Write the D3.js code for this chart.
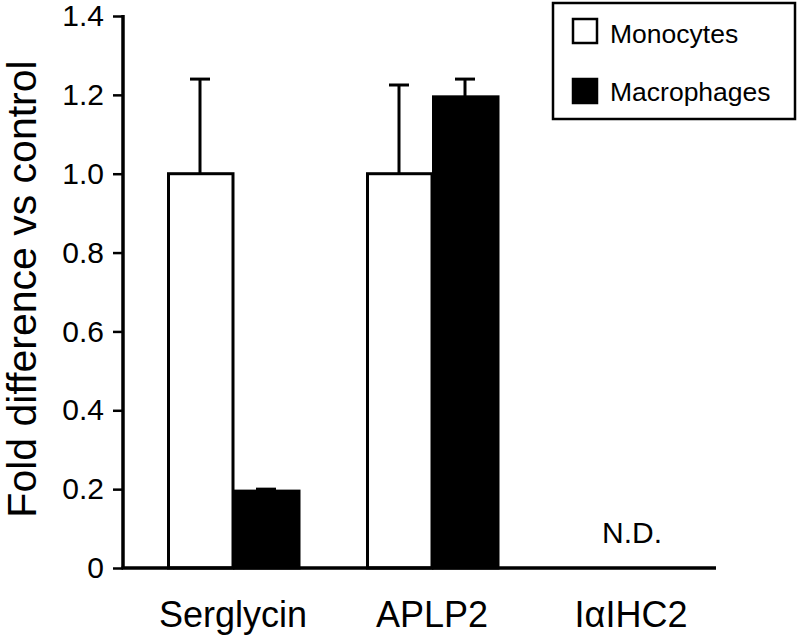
<!DOCTYPE html>
<html><head><meta charset="utf-8">
<script src="https://cdn.jsdelivr.net/npm/d3@7"></script>
<style>body{margin:0;background:#fff}svg{display:block}text{font-family:"Liberation Sans",Arial,sans-serif;fill:#000}</style>
</head><body>
<svg id="c" width="800" height="640"></svg>
<script>
const categories = ["Serglycin", "APLP2", "IαIHC2"];
const series = ["Monocytes", "Macrophages"];
const monocytes = [1.0, 1.0, null];
const macrophages = [0.195, 1.195, null];
const monocytesErr = [0.24, 0.225, null];
const macrophagesErr = [0.005, 0.045, null];
const yTicks = [0, 0.2, 0.4, 0.6, 0.8, 1.0, 1.2, 1.4];
const yTickLabels = ["0", "0.2", "0.4", "0.6", "0.8", "1.0", "1.2", "1.4"];

const svg = d3.select("#c");
const y = d3.scaleLinear().domain([0, 1.4]).range([568, 16]);
const x = d3.scaleBand().domain(categories).range([133.5, 730.5]);
const xs = d3.scaleBand().domain(series).range([-66, 66]);
const axisX = 123, axisEnd = 716;

// y axis
const ya = svg.append("g").attr("transform", `translate(${axisX},0)`)
  .call(d3.axisLeft(y).tickValues(yTicks).tickFormat((d,i)=>yTickLabels[i]).tickSize(10).tickPadding(9));
ya.select(".domain").attr("stroke-width", 3.5).attr("d", `M0,${y(1.4)-1}V${y(0)}`);
ya.selectAll(".tick line").attr("stroke-width", 2.5);
ya.selectAll(".tick text").style("font-size", "30px").style("font-family", '"Liberation Sans",Arial,sans-serif');

// y title
svg.append("text").attr("transform", `translate(36,${(y(0)+y(1.4))/2 - 3}) rotate(-90)`)
  .attr("text-anchor", "middle")
  .style("font-size", "41px").text("Fold difference vs control");

const data = categories.map((c,i)=>({c, vals:[
  {s:"Monocytes", v:monocytes[i], e:monocytesErr[i]},
  {s:"Macrophages", v:macrophages[i], e:macrophagesErr[i]}]}));

const g = svg.append("g");
data.forEach(d=>{
  const cx = x(d.c) + x.bandwidth()/2;
  d.vals.forEach(b=>{
    if (b.v == null) return;
    const x0 = cx + xs(b.s);
    const fill = b.s === "Monocytes" ? "#fff" : "#000";
    const mx = x0 + xs.bandwidth()/2;
    g.append("line").attr("x1", mx).attr("x2", mx)
      .attr("y1", y(b.v)).attr("y2", y(b.v + b.e)).attr("stroke", "#000").attr("stroke-width", 3);
    g.append("line").attr("x1", mx - 10).attr("x2", mx + 10)
      .attr("y1", y(b.v + b.e)).attr("y2", y(b.v + b.e)).attr("stroke", "#000").attr("stroke-width", 3);
    g.append("rect").attr("x", x0 + 1.5).attr("width", xs.bandwidth() - 1.5)
      .attr("y", y(b.v)).attr("height", y(0) - y(b.v))
      .attr("fill", fill).attr("stroke", "#000").attr("stroke-width", 3);
  });
  if (d.vals.every(b=>b.v == null)) {
    g.append("text").attr("x", cx + 1).attr("y", 543).attr("text-anchor", "middle")
      .style("font-size", "30px").text("N.D.");
  }
});

// x axis line
svg.append("line").attr("x1", axisX - 1.5).attr("x2", axisEnd).attr("y1", y(0)).attr("y2", y(0))
  .attr("stroke", "#000").attr("stroke-width", 3.5);

// category labels
svg.selectAll(".cat").data(categories).enter().append("text")
  .attr("x", d => x(d) + x.bandwidth()/2).attr("y", 627).attr("text-anchor", "middle")
  .style("font-size", "36px").text(d => d);

// legend
const lg = svg.append("g");
lg.append("rect").attr("x", 553).attr("y", 3).attr("width", 242).attr("height", 116)
  .attr("fill", "#fff").attr("stroke", "#000").attr("stroke-width", 2.5);
series.forEach((s,i)=>{
  lg.append("rect").attr("x", 573).attr("y", 19 + i*60).attr("width", 24).attr("height", 24)
    .attr("fill", i===0 ? "#fff" : "#000").attr("stroke", "#000").attr("stroke-width", 2.5);
  lg.append("text").attr("x", 610).attr("y", 43 + i*58).style("font-size", "26.5px").text(s);
});
</script>
</body></html>
